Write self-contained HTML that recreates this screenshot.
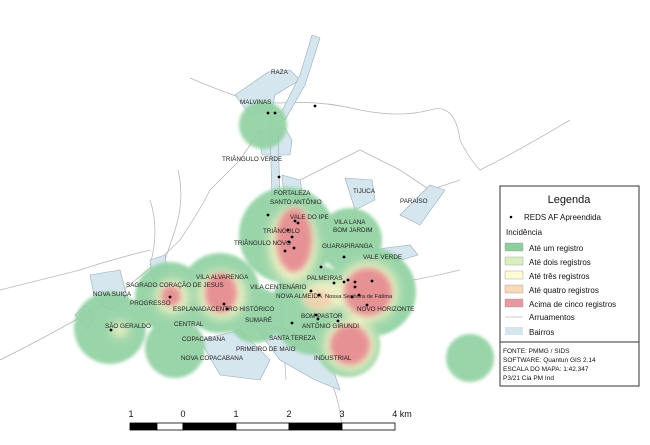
<!DOCTYPE html>
<html><head><meta charset="utf-8"><style>
html,body{margin:0;padding:0;background:#fff;}
svg{display:block;}
text{font-family:"Liberation Sans",sans-serif;}
.l{font-size:6.3px;fill:#222;}
</style></head><body>
<svg width="650" height="445" viewBox="0 0 650 445" xmlns="http://www.w3.org/2000/svg">
<defs>
<filter id="b" x="-50%" y="-50%" width="200%" height="200%"><feGaussianBlur stdDeviation="1.5"/></filter>
<filter id="b1" x="-50%" y="-50%" width="200%" height="200%"><feGaussianBlur stdDeviation="5"/></filter>
<filter id="b2" x="-50%" y="-50%" width="200%" height="200%"><feGaussianBlur stdDeviation="3"/></filter>
</defs>
<rect width="650" height="445" fill="#fff"/>
<g fill="none" stroke="#b8b8b8" stroke-width="0.8">
<path d="M190 78 Q230 95 255 102 L280 103 Q320 100 360 110 Q400 118 430 110 Q455 102 460 140 Q470 160 480 170 Q520 150 570 120"/>
<path d="M0 360 Q60 330 110 300 Q150 270 180 240 Q200 210 210 190 L240 160 L260 130"/>
<path d="M0 290 Q40 280 80 270 Q110 260 150 250"/>
<path d="M140 310 Q200 300 260 295 Q320 290 380 285 Q420 280 460 270"/>
<path d="M330 380 Q340 400 342 430"/>
<path d="M300 180 L360 150 L400 170 L430 190 L460 180"/>
<path d="M270 80 L270 140 L275 200 L280 260 L282 320 L286 380"/>
<path d="M178 170 Q185 200 175 230 L165 260"/>
<path d="M150 200 Q160 230 150 265"/>
</g>
<g fill="#d6e6ef" stroke="#9ab" stroke-width="0.6">
<path d="M235 95 L268 72 L290 70 L300 80 L275 95 L272 110 L250 115 Z"/>
<path d="M280 115 L300 75 L312 35 L320 38 L305 85 L285 120 Z"/>
<path d="M258 132 L285 128 L292 140 L290 155 L262 155 Z"/>
<path d="M270 128 L278 128 L280 200 L272 200 Z"/>
<path d="M282 175 L300 180 L305 205 L285 205 Z"/>
<path d="M345 178 L372 180 L375 200 L355 210 Z"/>
<path d="M400 215 L430 185 L445 190 L420 225 Z"/>
<path d="M90 275 L120 270 L128 300 L110 310 L95 300 Z"/>
<path d="M75 315 L85 305 L95 315 L88 330 Z"/>
<path d="M200 340 L240 330 L270 360 L260 380 L220 375 Z"/>
<path d="M250 320 L290 330 L330 360 L340 390 L315 380 L280 360 Z"/>
<path d="M330 300 L360 300 L370 330 L340 335 Z"/>
<path d="M370 250 L410 245 L418 255 L395 262 Z"/>
<path d="M150 260 L165 255 L170 290 L155 300 Z"/>
</g>
<g filter="url(#b)" fill="#92d1a2" opacity="0.92">
<circle cx="287" cy="235" r="48"/>
<circle cx="350" cy="240" r="32"/>
<circle cx="372" cy="292" r="44"/>
<circle cx="315" cy="310" r="45"/>
<circle cx="220" cy="293" r="40"/>
<circle cx="170" cy="297" r="35"/>
<circle cx="110" cy="328" r="36"/>
<circle cx="175" cy="348" r="30"/>
<circle cx="255" cy="315" r="28"/>
<circle cx="348" cy="345" r="32"/>
<circle cx="263" cy="125" r="24"/>
<circle cx="470" cy="358" r="24"/>
</g>
<g filter="url(#b1)" fill="#f7f3c8" opacity="0.9">
<ellipse cx="293" cy="245" rx="24" ry="38"/>
<ellipse cx="325" cy="295" rx="22" ry="16"/>
<circle cx="222" cy="295" r="24"/>
<circle cx="172" cy="297" r="17"/>
<circle cx="368" cy="292" r="30"/>
<circle cx="350" cy="345" r="26"/>
<circle cx="120" cy="330" r="8"/>
</g>
<g filter="url(#b2)" fill="#e68a90" opacity="0.92">
<ellipse cx="294" cy="240" rx="18" ry="32"/>
<circle cx="368" cy="292" r="24"/>
<ellipse cx="221" cy="293" rx="16" ry="20"/>
<circle cx="171" cy="296" r="10"/>
<circle cx="350" cy="345" r="20"/>
</g>
<g filter="url(#b2)" fill="#f3c9a8" opacity="0.7"><ellipse cx="318" cy="300" rx="14" ry="10"/></g>
<g fill="#000">
<circle cx="268" cy="113" r="1.4"/><circle cx="275" cy="113" r="1.4"/><circle cx="315" cy="106" r="1.4"/>
<circle cx="279" cy="177" r="1.4"/><circle cx="268" cy="215" r="1.4"/><circle cx="295" cy="221" r="1.4"/><circle cx="298" cy="223" r="1.4"/>
<circle cx="288" cy="230" r="1.4"/><circle cx="292" cy="237" r="1.4"/><circle cx="289" cy="242" r="1.4"/><circle cx="285" cy="251" r="1.4"/><circle cx="294" cy="248" r="1.4"/>
<circle cx="344" cy="257" r="1.4"/><circle cx="321" cy="267" r="1.4"/><circle cx="334" cy="283" r="1.4"/><circle cx="344" cy="282" r="1.4"/><circle cx="348" cy="280" r="1.4"/><circle cx="355" cy="282" r="1.4"/><circle cx="372" cy="281" r="1.4"/>
<circle cx="355" cy="287" r="1.4"/><circle cx="359" cy="295" r="1.4"/><circle cx="352" cy="297" r="1.4"/><circle cx="311" cy="291" r="1.4"/><circle cx="319" cy="295" r="1.4"/>
<circle cx="367" cy="305" r="1.4"/><circle cx="316" cy="315" r="1.4"/><circle cx="318" cy="319" r="1.4"/><circle cx="338" cy="321" r="1.4"/><circle cx="292" cy="323" r="1.4"/>
<circle cx="170" cy="297" r="1.4"/><circle cx="224" cy="304" r="1.4"/><circle cx="227" cy="309" r="1.4"/><circle cx="111" cy="330" r="1.4"/>
</g>
<g class="l">
<text x="271" y="74">RAZA</text>
<text x="240" y="104">MALVINAS</text>
<text x="222" y="161">TRIÂNGULO VERDE</text>
<text x="353" y="193">TIJUCA</text>
<text x="400" y="203">PARAÍSO</text>
<text x="274" y="195">FORTALEZA</text>
<text x="270" y="204">SANTO ANTÔNIO</text>
<text x="290" y="219">VALE DO IPE</text>
<text x="334" y="224">VILA LANA</text>
<text x="333" y="232">BOM JARDIM</text>
<text x="263" y="233">TRIÂNGULO</text>
<text x="234" y="245">TRIÂNGULO NOVO</text>
<text x="322" y="248">GUARAPIRANGA</text>
<text x="363" y="259">VALE VERDE</text>
<text x="196" y="279">VILA ALVARENGA</text>
<text x="307" y="280">PALMEIRAS</text>
<text x="126" y="287">SAGRADO CORAÇÃO DE JESUS</text>
<text x="250" y="289">VILA CENTENÁRIO</text>
<text x="93" y="296">NOVA SUIÇA</text>
<text x="276" y="298">NOVA ALMEIDA</text>
<text x="325" y="298" style="font-size:5.8px">Nossa Senhora de Fátima</text>
<text x="130" y="305">PROGRESSO</text>
<text x="173" y="311">ESPLANADA</text>
<text x="211" y="311">CENTRO HISTÓRICO</text>
<text x="357" y="311">NOVO HORIZONTE</text>
<text x="301" y="318">BOM PASTOR</text>
<text x="245" y="322">SUMARÉ</text>
<text x="174" y="326">CENTRAL</text>
<text x="105" y="328">SÃO GERALDO</text>
<text x="302" y="328">ANTÔNIO GIRUNDI</text>
<text x="269" y="340">SANTA TEREZA</text>
<text x="182" y="341">COPACABANA</text>
<text x="236" y="351">PRIMEIRO DE MAIO</text>
<text x="181" y="360">NOVA COPACABANA</text>
<text x="314" y="360">INDUSTRIAL</text>
</g>
<rect x="500" y="186" width="139" height="156" fill="#fff" stroke="#333" stroke-width="1"/>
<rect x="500" y="342" width="139" height="44" fill="#fff" stroke="#333" stroke-width="1"/>
<text x="569" y="203" text-anchor="middle" font-size="11" fill="#111">Legenda</text>
<circle cx="511" cy="217" r="1.3" fill="#000"/>
<g font-size="8" fill="#111">
<text x="524" y="220">REDS AF Apreendida</text>
<text x="506" y="235">Incidência</text>
<rect x="505" y="243" width="18" height="8" fill="#8fcf9f" stroke="#999" stroke-width="0.4"/><text x="529" y="251">Até um registro</text>
<rect x="505" y="257" width="18" height="8" fill="#d8efc0" stroke="#999" stroke-width="0.4"/><text x="529" y="265">Até dois registros</text>
<rect x="505" y="271" width="18" height="8" fill="#fdfbd8" stroke="#999" stroke-width="0.4"/><text x="529" y="279">Até três registros</text>
<rect x="505" y="285" width="18" height="8" fill="#f9d9b7" stroke="#999" stroke-width="0.4"/><text x="529" y="293">Até quatro registros</text>
<rect x="505" y="299" width="18" height="8" fill="#e69a9f" stroke="#999" stroke-width="0.4"/><text x="529" y="307">Acima de cinco registros</text>
<line x1="505" y1="317" x2="523" y2="317" stroke="#ccc" stroke-width="1"/><text x="529" y="320">Arruamentos</text>
<rect x="505" y="327" width="18" height="8" fill="#d6e6ef"/><text x="529" y="335">Bairros</text>
</g>
<g font-size="6.5" fill="#111">
<text x="503" y="353">FONTE: PMMG / SIDS</text>
<text x="503" y="362">SOFTWARE: Quantun GIS 2.14</text>
<text x="503" y="371">ESCALA DO MAPA: 1:42.347</text>
<text x="503" y="380">P3/21 Cia PM Ind</text>
</g>
<g stroke="#000" stroke-width="0.8">
<rect x="130" y="423" width="27" height="7" fill="#000"/>
<rect x="157" y="423" width="26" height="7" fill="#fff"/>
<rect x="183" y="423" width="53" height="7" fill="#000"/>
<rect x="236" y="423" width="53" height="7" fill="#fff"/>
<rect x="289" y="423" width="53" height="7" fill="#000"/>
<rect x="342" y="423" width="53" height="7" fill="#fff"/>
</g>
<g font-size="9" fill="#111" text-anchor="middle">
<text x="131" y="417">1</text><text x="183" y="417">0</text><text x="236" y="417">1</text><text x="289" y="417">2</text><text x="342" y="417">3</text><text x="402" y="417">4 km</text>
</g>
</svg>
</body></html>
